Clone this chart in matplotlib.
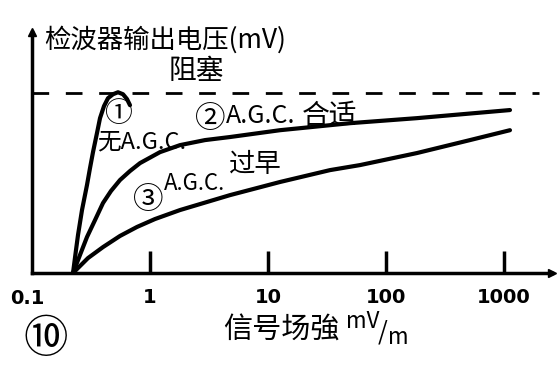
import matplotlib
matplotlib.use("Agg")
import matplotlib.pyplot as plt

plt.rcParams['font.family'] = ['Noto Sans CJK SC', 'DejaVu Sans']

# field strength (mV/m) and detector output (relative to blocking level = 1.0)
no_agc_x = [0.2226, 0.236, 0.2454, 0.2653, 0.2924, 0.3101, 0.3288, 0.3554,
            0.3771, 0.4076, 0.4406, 0.4858, 0.5356, 0.5904, 0.6385, 0.6768]
no_agc_y = [0.0, 0.128, 0.211, 0.35, 0.489, 0.583, 0.672, 0.778,
            0.861, 0.928, 0.972, 0.994, 1.005, 0.994, 0.967, 0.933]

agc_ok_x = [0.2226, 0.2551, 0.2924, 0.3419, 0.3996, 0.4671, 0.557, 0.6768,
            0.823, 1.215, 1.796, 2.925, 4.764, 12.64, 49.5, 183.1, 1124]
agc_ok_y = [0.0, 0.1, 0.2, 0.294, 0.389, 0.456, 0.517, 0.567,
            0.611, 0.672, 0.711, 0.739, 0.756, 0.794, 0.833, 0.861, 0.906]

agc_early_x = [0.2226, 0.2982, 0.3996, 0.557, 0.776, 1.102, 1.796, 4.764,
               12.64, 33.5, 60.2, 183.1, 515, 1124]
agc_early_y = [0.0, 0.083, 0.144, 0.206, 0.256, 0.3, 0.35, 0.433,
               0.506, 0.572, 0.6, 0.667, 0.739, 0.794]

block_level = 1.0
tick_vals = [1, 10, 100, 1000]
tick_labels = ['1', '10', '100', '1000']

W, H = 560, 366


def px(x, y):
    # pixel position -> figure fraction
    return x / W, 1 - y / H


fig = plt.figure(figsize=(W / 100, H / 100), dpi=100)
ax = fig.add_axes([32 / W, 93 / H, (552 - 32) / W, (273 - 32) / H])
ax.set_xscale('log')
xmax = 10 ** 3.407
ax.set_xlim(0.1, xmax)
ax.set_ylim(0, 1.34)

lw = 3
for xs, ys in [(no_agc_x, no_agc_y), (agc_ok_x, agc_ok_y),
               (agc_early_x, agc_early_y)]:
    ax.plot(xs, ys, color='black', lw=lw, solid_capstyle='round',
            solid_joinstyle='round')
ax.plot([0.1, 2000], [block_level, block_level], color='black', lw=2,
        dashes=(6, 6))

for s in ['top', 'right']:
    ax.spines[s].set_visible(False)
ax.spines['left'].set_linewidth(2.5)
ax.spines['bottom'].set_linewidth(2.5)
ax.plot([0.1], [1.34], marker='^', color='black', ms=6, clip_on=False)
ax.plot([xmax], [0], marker='>', color='black', ms=6, clip_on=False)

ax.set_yticks([])
ax.set_xticks(tick_vals)
ax.set_xticklabels(tick_labels, fontsize=14, fontweight='bold',
                   family='DejaVu Sans')
ax.minorticks_off()
ax.tick_params(axis='x', direction='in', length=16, width=2.5, pad=11)
fig.text(*px(27, 298), '0.1', fontsize=14, fontweight='bold',
         family='DejaVu Sans', va='center', ha='center')

fig.text(*px(44, 40), '检波器输出电压(mV)', fontsize=19, va='center', ha='left')
fig.text(*px(196, 71), '阻塞', fontsize=20, va='center', ha='center')
fig.text(*px(118, 114), '①', fontsize=20, va='center', ha='center')
fig.text(*px(97, 142), '无A.G.C.', fontsize=17, va='center', ha='left')
fig.text(*px(210, 119), '②', fontsize=22, va='center', ha='center')
fig.text(*px(226, 116), 'A.G.C.', fontsize=18, va='center', ha='left')
fig.text(*px(302, 116), '合适', fontsize=20, va='center', ha='left')
fig.text(*px(148, 200), '③', fontsize=22, va='center', ha='center')
fig.text(*px(164, 184), 'A.G.C.', fontsize=16, va='center', ha='left')
fig.text(*px(229, 164), '过早', fontsize=19, va='center', ha='left')
fig.text(*px(46, 339), '⑩', fontsize=32, va='center', ha='center')
fig.text(*px(223, 331), '信号场強', fontsize=21, va='center', ha='left')
fig.text(*px(346, 322), 'mV', fontsize=16, style='italic', va='center',
         ha='left')
fig.text(*px(378, 332), '/', fontsize=18, va='center', ha='left')
fig.text(*px(388, 338), 'm', fontsize=16, style='italic', va='center',
         ha='left')

fig.savefig('out.png', dpi=100, facecolor='white')
